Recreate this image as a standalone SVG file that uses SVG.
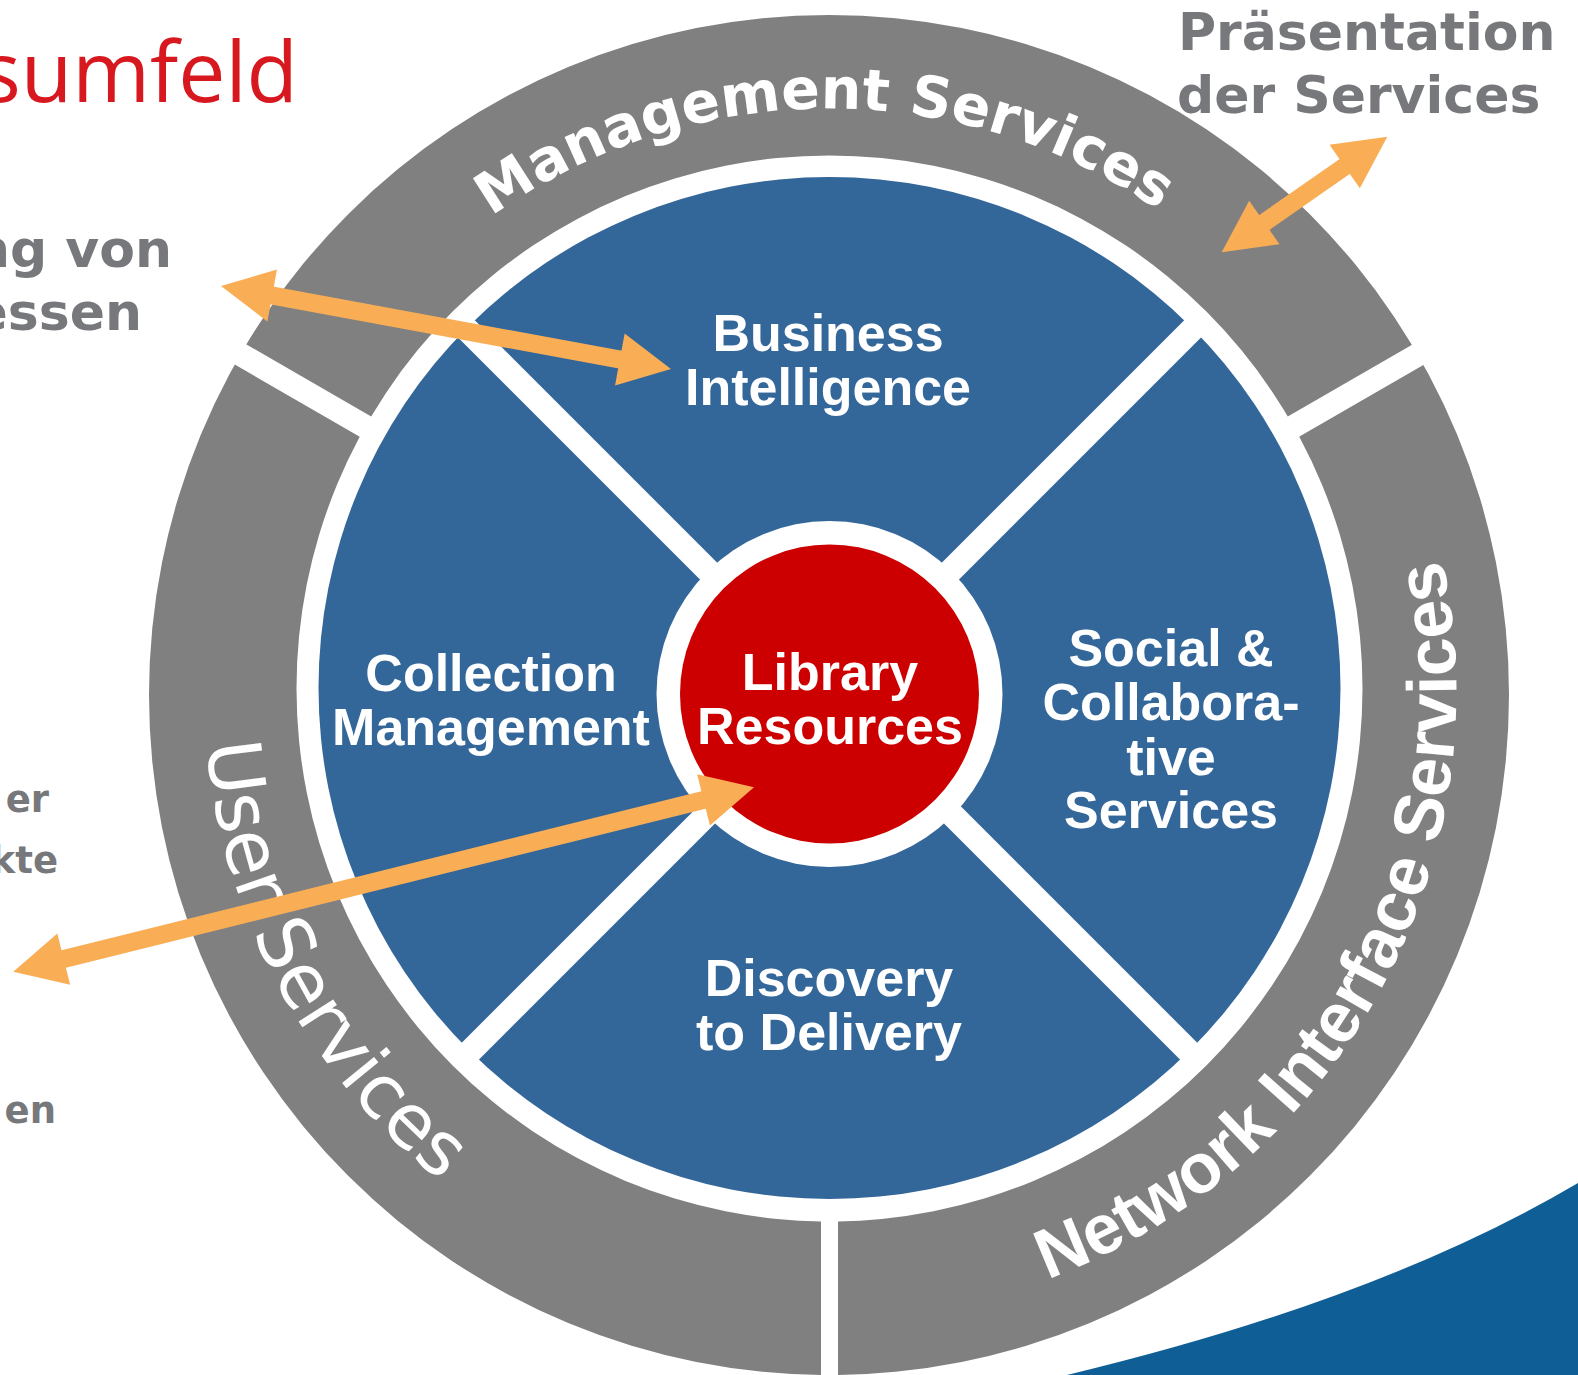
<svg xmlns="http://www.w3.org/2000/svg" width="1578" height="1375" viewBox="0 0 1578 1375">
<style>
.ring{fill:#808080;fill-rule:evenodd}
.quad{fill:#336699}
.qt{font-family:"Liberation Sans",Arial,sans-serif;font-weight:bold;font-size:52px;fill:#ffffff;text-anchor:middle}
.side{font-family:"DejaVu Sans",Verdana,sans-serif;font-weight:bold;fill:#77787b}
.arrow{stroke:#f9ae56;stroke-width:18;fill:none;marker-start:url(#ah);marker-end:url(#ah)}
</style>
<defs>
<marker id="ah" markerUnits="userSpaceOnUse" orient="auto-start-reverse" markerWidth="56" markerHeight="56" refX="2" refY="26.5" overflow="visible">
<path d="M0,0 L52,26.5 L0,53 Z" fill="#f9ae56"/>
</marker>
<path id="annulus" d="M149,695 A680,680 0 1,0 1509,695 A680,680 0 1,0 149,695 Z M296.5,688.5 A533,533 0 1,0 1362.5,688.5 A533,533 0 1,0 296.5,688.5 Z"/>
<clipPath id="c-mgmt"><polygon points="829.5,681.1 -30.7,184.45 -30.7,-500 1689.7,-500 1689.7,184.45"/></clipPath>
<clipPath id="c-user"><polygon points="821,703 -42.3,204.55 -300,1500 821,1500"/></clipPath>
<clipPath id="c-net"><polygon points="838,703 1701.3,204.55 1900,1500 838,1500"/></clipPath>
<clipPath id="c-bi"><polygon points="829.5,675 -170.5,-325 1829.5,-325"/></clipPath>
<clipPath id="c-cm"><polygon points="812.5,692 -187.5,-308 -187.5,1692"/></clipPath>
<clipPath id="c-dd"><polygon points="829.5,709 -170.5,1709 1829.5,1709"/></clipPath>
<clipPath id="c-sc"><polygon points="846.5,692 1846.5,-308 1846.5,1692"/></clipPath>
<path id="pm" d="M246.5,691.5 A583,583 0 0,1 1412.5,691.5"/>
<path id="pn" d="M628,1285.2 A627,627 0 0,0 1221.9,202.5"/>
<path id="pu" d="M249.2,459.4 A625,625 0 0,0 701.7,1303.3"/>
</defs>
<rect width="1578" height="1375" fill="#ffffff"/>
<path id="swoosh" d="M1067,1375 Q1380,1300 1578,1183 L1578,1375 Z" fill="#0f5f96"/>
<g id="ring-management">
<use href="#annulus" class="ring" clip-path="url(#c-mgmt)"/>
<text font-family="DejaVu Sans,Verdana,sans-serif" font-weight="bold" font-size="57" fill="#ffffff"><textPath href="#pm" startOffset="49.7%" text-anchor="middle">Management Services</textPath></text>
</g>
<g id="ring-user">
<use href="#annulus" class="ring" clip-path="url(#c-user)"/>
<text font-family="DejaVu Sans,Verdana,sans-serif" font-size="75" fill="#ffffff"><textPath href="#pu" startOffset="50%" text-anchor="middle">User Services</textPath></text>
</g>
<g id="ring-network">
<use href="#annulus" class="ring" clip-path="url(#c-net)"/>
<text font-family="Liberation Sans,Arial,sans-serif" font-weight="bold" font-size="70" fill="#ffffff"><textPath href="#pn" startOffset="50%" text-anchor="middle">Network Interface Services</textPath></text>
</g>
<g id="q-business">
<circle class="quad" cx="829.5" cy="688" r="511" clip-path="url(#c-bi)"/>
<text class="qt" x="828" y="351">Business</text>
<text class="qt" x="828" y="405">Intelligence</text>
</g>
<g id="q-collection">
<circle class="quad" cx="829.5" cy="688" r="511" clip-path="url(#c-cm)"/>
<text class="qt" x="491" y="691">Collection</text>
<text class="qt" x="491" y="745">Management</text>
</g>
<g id="q-discovery">
<circle class="quad" cx="829.5" cy="688" r="511" clip-path="url(#c-dd)"/>
<text class="qt" x="829" y="996">Discovery</text>
<text class="qt" x="829" y="1050">to Delivery</text>
</g>
<g id="q-social">
<circle class="quad" cx="829.5" cy="688" r="511" clip-path="url(#c-sc)"/>
<text class="qt" x="1171" y="666">Social &amp;</text>
<text class="qt" x="1171" y="720">Collabora-</text>
<text class="qt" x="1171" y="775">tive</text>
<text class="qt" x="1171" y="828">Services</text>
</g>
<g id="core-library">
<circle cx="829.5" cy="694" r="173" fill="#ffffff"/>
<circle cx="829.5" cy="694" r="149.5" fill="#cc0000"/>
<text class="qt" x="830" y="690">Library</text>
<text class="qt" x="830" y="744">Resources</text>
</g>
<g id="labels">
<text x="298" y="102" text-anchor="end" font-family="Open Sans,sans-serif" font-size="84" fill="#d7191f">sumfeld</text>
<text class="side" x="1178" y="50" font-size="52">Präsentation</text>
<text class="side" x="1177" y="113" font-size="52">der Services</text>
<text class="side" x="172" y="267" font-size="52" text-anchor="end">ng von</text>
<text class="side" x="142" y="330" font-size="52" text-anchor="end">essen</text>
<text class="side" x="49" y="812" font-size="37" text-anchor="end">er</text>
<text class="side" x="58" y="873" font-size="37" text-anchor="end">kte</text>
<text class="side" x="56" y="1123" font-size="37" text-anchor="end">en</text>
</g>
<g id="connectors">
<line class="arrow" x1="270.2" y1="295.1" x2="621.8" y2="359.9"/>
<line class="arrow" x1="1262.7" y1="223.7" x2="1346.3" y2="165.3"/>
<line class="arrow" x1="61.8" y1="959.6" x2="705.5" y2="799.4"/>
</g>
</svg>
